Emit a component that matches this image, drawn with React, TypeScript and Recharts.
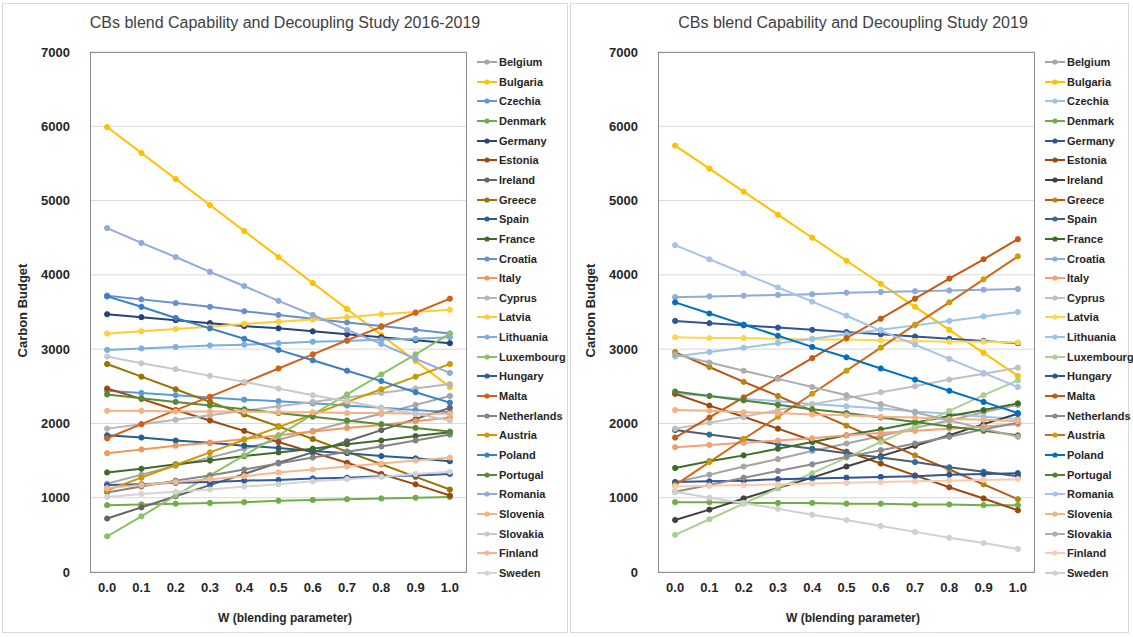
import { LineChart, Line, XAxis, YAxis, CartesianGrid } from 'recharts';

const W_VALUES = [0, 0.1, 0.2, 0.3, 0.4, 0.5, 0.6, 0.7, 0.8, 0.9, 1.0];
const W_BOUNDS = [-0.05, 0.05, 0.15, 0.25, 0.35, 0.45, 0.55, 0.65, 0.75, 0.85, 0.95, 1.05];
const Y_TICKS = [0, 1000, 2000, 3000, 4000, 5000, 6000, 7000];

const COUNTRIES = [
  'Belgium', 'Bulgaria', 'Czechia', 'Denmark', 'Germany', 'Estonia', 'Ireland', 'Greece', 'Spain',
  'France', 'Croatia', 'Italy', 'Cyprus', 'Latvia', 'Lithuania', 'Luxembourg', 'Hungary', 'Malta',
  'Netherlands', 'Austria', 'Poland', 'Portugal', 'Romania', 'Slovenia', 'Slovakia', 'Finland', 'Sweden',
];

// 2016-2019 study
const bel16 = [1190, 1310, 1430, 1540, 1660, 1780, 1900, 2020, 2130, 2250, 2370];
const bul16 = [5990, 5640, 5290, 4940, 4590, 4240, 3890, 3540, 3190, 2840, 2490];
const cze16 = [2440, 2410, 2380, 2350, 2320, 2300, 2270, 2240, 2210, 2180, 2150];
const den16 = [900, 910, 920, 930, 940, 960, 970, 980, 990, 1000, 1010];
const ger16 = [3470, 3430, 3390, 3350, 3310, 3280, 3240, 3200, 3160, 3120, 3080];
const est16 = [2470, 2330, 2180, 2040, 1900, 1750, 1610, 1470, 1320, 1180, 1030];
const ire16 = [720, 870, 1020, 1170, 1320, 1470, 1610, 1760, 1910, 2060, 2210];
const gre16 = [2800, 2630, 2460, 2290, 2120, 1960, 1790, 1620, 1450, 1280, 1110];
const spa16 = [1840, 1810, 1770, 1740, 1700, 1670, 1630, 1600, 1560, 1530, 1490];
const fra16 = [1340, 1390, 1450, 1500, 1560, 1610, 1660, 1720, 1770, 1830, 1880];
const cro16 = [3720, 3670, 3620, 3570, 3510, 3460, 3410, 3360, 3310, 3260, 3210];
const ita16 = [1600, 1650, 1700, 1740, 1790, 1840, 1890, 1940, 1980, 2030, 2080];
const cyp16 = [1930, 1990, 2050, 2110, 2170, 2230, 2290, 2350, 2410, 2470, 2530];
const lat16 = [3210, 3240, 3270, 3300, 3340, 3370, 3400, 3430, 3470, 3500, 3530];
const lit16 = [2990, 3010, 3030, 3050, 3060, 3080, 3100, 3110, 3130, 3140, 3160];
const lux16 = [480, 750, 1030, 1300, 1570, 1840, 2120, 2390, 2660, 2930, 3210];
const hun16 = [1170, 1180, 1200, 1210, 1230, 1240, 1260, 1270, 1290, 1300, 1320];
const mal16 = [1800, 1990, 2180, 2360, 2550, 2740, 2930, 3120, 3300, 3490, 3680];
const net16 = [1070, 1150, 1230, 1300, 1380, 1460, 1540, 1620, 1690, 1770, 1850];
const aus16 = [1100, 1270, 1440, 1610, 1780, 1950, 2120, 2290, 2460, 2630, 2800];
const pol16 = [3710, 3570, 3420, 3280, 3140, 2990, 2850, 2710, 2570, 2420, 2280];
const por16 = [2390, 2340, 2290, 2240, 2190, 2140, 2090, 2040, 1990, 1940, 1890];
const rom16 = [4630, 4430, 4240, 4040, 3850, 3650, 3460, 3260, 3070, 2870, 2680];
const slo16 = [2170, 2170, 2160, 2160, 2160, 2150, 2150, 2140, 2140, 2130, 2130];
const slk16 = [2900, 2810, 2730, 2640, 2560, 2470, 2380, 2300, 2210, 2130, 2040];
const fin16 = [1130, 1170, 1210, 1250, 1290, 1340, 1380, 1420, 1460, 1500, 1540];
const swe16 = [1010, 1050, 1080, 1110, 1150, 1180, 1220, 1250, 1280, 1320, 1350];

// 2019 study
const bel19 = [1210, 1310, 1420, 1520, 1630, 1730, 1830, 1940, 2040, 2150, 2250];
const bul19 = [5740, 5430, 5120, 4810, 4500, 4190, 3880, 3570, 3260, 2950, 2640];
const cze19 = [2400, 2370, 2330, 2300, 2260, 2230, 2200, 2160, 2130, 2090, 2060];
const den19 = [940, 940, 930, 930, 930, 920, 920, 910, 910, 900, 900];
const ger19 = [3380, 3350, 3320, 3290, 3260, 3230, 3200, 3170, 3140, 3110, 3080];
const est19 = [2400, 2240, 2090, 1930, 1770, 1620, 1460, 1300, 1140, 990, 830];
const ire19 = [700, 840, 990, 1130, 1270, 1420, 1560, 1700, 1840, 1990, 2130];
const gre19 = [2960, 2760, 2560, 2370, 2170, 1970, 1770, 1570, 1380, 1180, 980];
const spa19 = [1910, 1850, 1790, 1720, 1660, 1600, 1540, 1480, 1410, 1350, 1290];
const fra19 = [1400, 1490, 1570, 1660, 1750, 1840, 1920, 2010, 2100, 2180, 2270];
const cro19 = [3700, 3710, 3720, 3730, 3740, 3760, 3770, 3780, 3790, 3800, 3810];
const ita19 = [1680, 1710, 1740, 1770, 1800, 1840, 1870, 1900, 1930, 1960, 1990];
const cyp19 = [1930, 2010, 2090, 2180, 2260, 2340, 2420, 2500, 2590, 2670, 2750];
const lat19 = [3160, 3150, 3150, 3140, 3130, 3130, 3120, 3110, 3100, 3100, 3090];
const lit19 = [2900, 2960, 3020, 3080, 3140, 3200, 3260, 3320, 3380, 3440, 3500];
const lux19 = [500, 710, 920, 1130, 1330, 1540, 1750, 1960, 2170, 2380, 2580];
const hun19 = [1210, 1220, 1230, 1250, 1260, 1270, 1280, 1290, 1310, 1320, 1330];
const mal19 = [1810, 2080, 2350, 2610, 2880, 3150, 3410, 3680, 3950, 4210, 4480];
const net19 = [1080, 1170, 1270, 1360, 1450, 1550, 1640, 1730, 1820, 1920, 2010];
const aus19 = [1170, 1480, 1790, 2090, 2400, 2710, 3020, 3330, 3630, 3940, 4250];
const pol19 = [3630, 3480, 3330, 3180, 3030, 2890, 2740, 2590, 2440, 2290, 2140];
const por19 = [2430, 2370, 2310, 2250, 2190, 2140, 2080, 2020, 1960, 1900, 1840];
const rom19 = [4400, 4210, 4020, 3830, 3640, 3450, 3250, 3060, 2870, 2680, 2490];
const slo19 = [2180, 2170, 2150, 2140, 2120, 2110, 2090, 2080, 2060, 2050, 2030];
const slk19 = [2930, 2820, 2710, 2600, 2490, 2380, 2260, 2150, 2040, 1930, 1820];
const fin19 = [1150, 1160, 1170, 1180, 1190, 1200, 1210, 1220, 1230, 1240, 1250];
const swe19 = [1080, 1000, 930, 850, 770, 700, 620, 540, 460, 390, 310];

const values16 = [bel16, bul16, cze16, den16, ger16, est16, ire16, gre16, spa16, fra16, cro16, ita16, cyp16, lat16,
  lit16, lux16, hun16, mal16, net16, aus16, pol16, por16, rom16, slo16, slk16, fin16, swe16];
const values19 = [bel19, bul19, cze19, den19, ger19, est19, ire19, gre19, spa19, fra19, cro19, ita19, cyp19, lat19,
  lit19, lux19, hun19, mal19, net19, aus19, pol19, por19, rom19, slo19, slk19, fin19, swe19];

const colors16 = ['#A5A5A5', '#FFC000', '#5B9BD5', '#70AD47', '#264478', '#9E480E', '#636363', '#997300', '#255E91',
  '#43682B', '#698ED0', '#F1975A', '#B7B7B7', '#FFCD33', '#7CAFDD', '#8CC168', '#335AA1', '#D0601A', '#848484',
  '#CC9A00', '#3A7FC4', '#5A8A39', '#8FAADC', '#F4B183', '#C9C9C9', '#F5B88E', '#D4D4D4'];
const colors19 = ['#A5A5A5', '#FFC000', '#9DC3E6', '#70AD47', '#2F5597', '#9E480E', '#404040', '#B4580F', '#4E5D6C',
  '#3B6E22', '#8FAADC', '#F4A070', '#C0C0C0', '#FFD54F', '#9DC3E6', '#A9D18E', '#2F5597', '#C55A11', '#8C8C8C',
  '#D06A1C', '#0070C0', '#548235', '#A9C2EA', '#F4B183', '#ADADAD', '#F8CBAD', '#D0D0D0'];
const dots19 = ['#A5A5A5', '#FFC000', '#9DC3E6', '#70AD47', '#2F5597', '#9E480E', '#404040', '#B8860B', '#2E6DA4',
  '#3B6E22', '#8FAADC', '#F4A070', '#C0C0C0', '#FFD54F', '#9DC3E6', '#A9D18E', '#2F5597', '#C55A11', '#8C8C8C',
  '#C9A000', '#0070C0', '#548235', '#A9C2EA', '#F4B183', '#ADADAD', '#F8CBAD', '#D0D0D0'];

const FONT = '"Liberation Sans", Arial, sans-serif';
const TEXT = '#262626';

type PanelProps = {
  left: number;
  width: number;
  title: string;
  values: number[][];
  colors: string[];
  dots?: string[];
  legendX: number;
};

function Panel({ left, width, title, values, colors, dots, legendX }: PanelProps) {
  const data = W_VALUES.map((w, i) => {
    const row: Record<string, number> = { w };
    COUNTRIES.forEach((c, k) => {
      row[c] = values[k][i];
    });
    return row;
  });
  const dotColors = dots || colors;

  return (
    <div style={{ position: 'absolute', left, top: 0, width, height: 637 }}>
      <div
        style={{
          position: 'absolute', left: 2, top: 3, width: width - 6, height: 630,
          border: '1px solid #d9d9d9', boxSizing: 'border-box',
        }}
      />
      <div style={{ position: 'absolute', left: 0, top: 14, width: 570, textAlign: 'center', fontSize: 16, color: '#404040' }}>
        {title}
      </div>
      <div
        style={{
          position: 'absolute', left: 22 - 60, top: 312 - 9, width: 120, textAlign: 'center',
          transform: 'rotate(-90deg)', fontSize: 13, fontWeight: 700, color: TEXT,
        }}
      >
        Carbon Budget
      </div>
      <div style={{ position: 'absolute', left: 0, top: 611, width: 570, textAlign: 'center', fontSize: 12, fontWeight: 700, color: TEXT }}>
        W (blending parameter)
      </div>

      <div style={{ position: 'absolute', left: 0, top: 0 }}>
        <LineChart width={470} height={637} data={data} margin={{ top: 52, right: 3, bottom: 0, left: 0 }}>
          <CartesianGrid vertical={false} stroke="#d9d9d9" />
          <XAxis
            xAxisId="minor"
            type="number"
            dataKey="w"
            domain={[-0.05, 1.05]}
            ticks={W_BOUNDS}
            interval={0}
            height={0}
            axisLine={false}
            tickSize={5}
            tickLine={{ stroke: '#a6a6a6' }}
            tick={{ fontSize: 0 }}
            tickFormatter={() => ''}
          />
          <XAxis
            type="number"
            dataKey="w"
            domain={[-0.05, 1.05]}
            ticks={W_VALUES}
            interval={0}
            height={65}
            axisLine={false}
            tickLine={false}
            tickSize={0}
            tickMargin={11}
            tickFormatter={(v: number) => v.toFixed(1)}
            tick={{ fontSize: 13, fontWeight: 700, fill: TEXT, fontFamily: FONT }}
          />
          <YAxis
            width={90}
            domain={[0, 7000]}
            ticks={Y_TICKS}
            interval={0}
            axisLine={false}
            tickLine={false}
            tickSize={0}
            tickMargin={20}
            tick={{ fontSize: 13, fontWeight: 700, fill: TEXT, fontFamily: FONT }}
          />
          {COUNTRIES.map((c, k) => (
            <Line
              key={c}
              dataKey={c}
              stroke={colors[k]}
              strokeWidth={2}
              dot={{ r: 2.6, fill: dotColors[k], stroke: dotColors[k], strokeWidth: 1 }}
              isAnimationActive={false}
            />
          ))}
        </LineChart>
      </div>

      <div
        style={{
          position: 'absolute', left: 90, top: 52, width: 377, height: 521,
          border: '1px solid #8c8c8c', boxSizing: 'border-box', pointerEvents: 'none',
        }}
      />

      {COUNTRIES.map((c, k) => (
        <div
          key={c}
          style={{
            position: 'absolute', left: legendX, top: 62 + k * 19.65 - 8, height: 16,
            display: 'flex', alignItems: 'center', fontSize: 11, fontWeight: 700, color: TEXT, whiteSpace: 'nowrap',
          }}
        >
          <svg width={21} height={16} style={{ marginRight: 1 }}>
            <line x1={0} y1={8} x2={20} y2={8} stroke={colors[k]} strokeWidth={2} />
            <circle cx={10} cy={8} r={2.6} fill={dotColors[k]} />
          </svg>
          {c}
        </div>
      ))}
    </div>
  );
}

export default function App() {
  return (
    <div style={{ position: 'relative', width: 1133, height: 637, background: '#fff', fontFamily: FONT, overflow: 'hidden' }}>
      <style>{'body{margin:0;}'}</style>
      <Panel
        left={0}
        width={572}
        title="CBs blend Capability and Decoupling Study 2016-2019"
        values={values16}
        colors={colors16}
        legendX={477}
      />
      <Panel
        left={568}
        width={565}
        title="CBs blend Capability and Decoupling Study 2019"
        values={values19}
        colors={colors19}
        dots={dots19}
        legendX={477}
      />
    </div>
  );
}
